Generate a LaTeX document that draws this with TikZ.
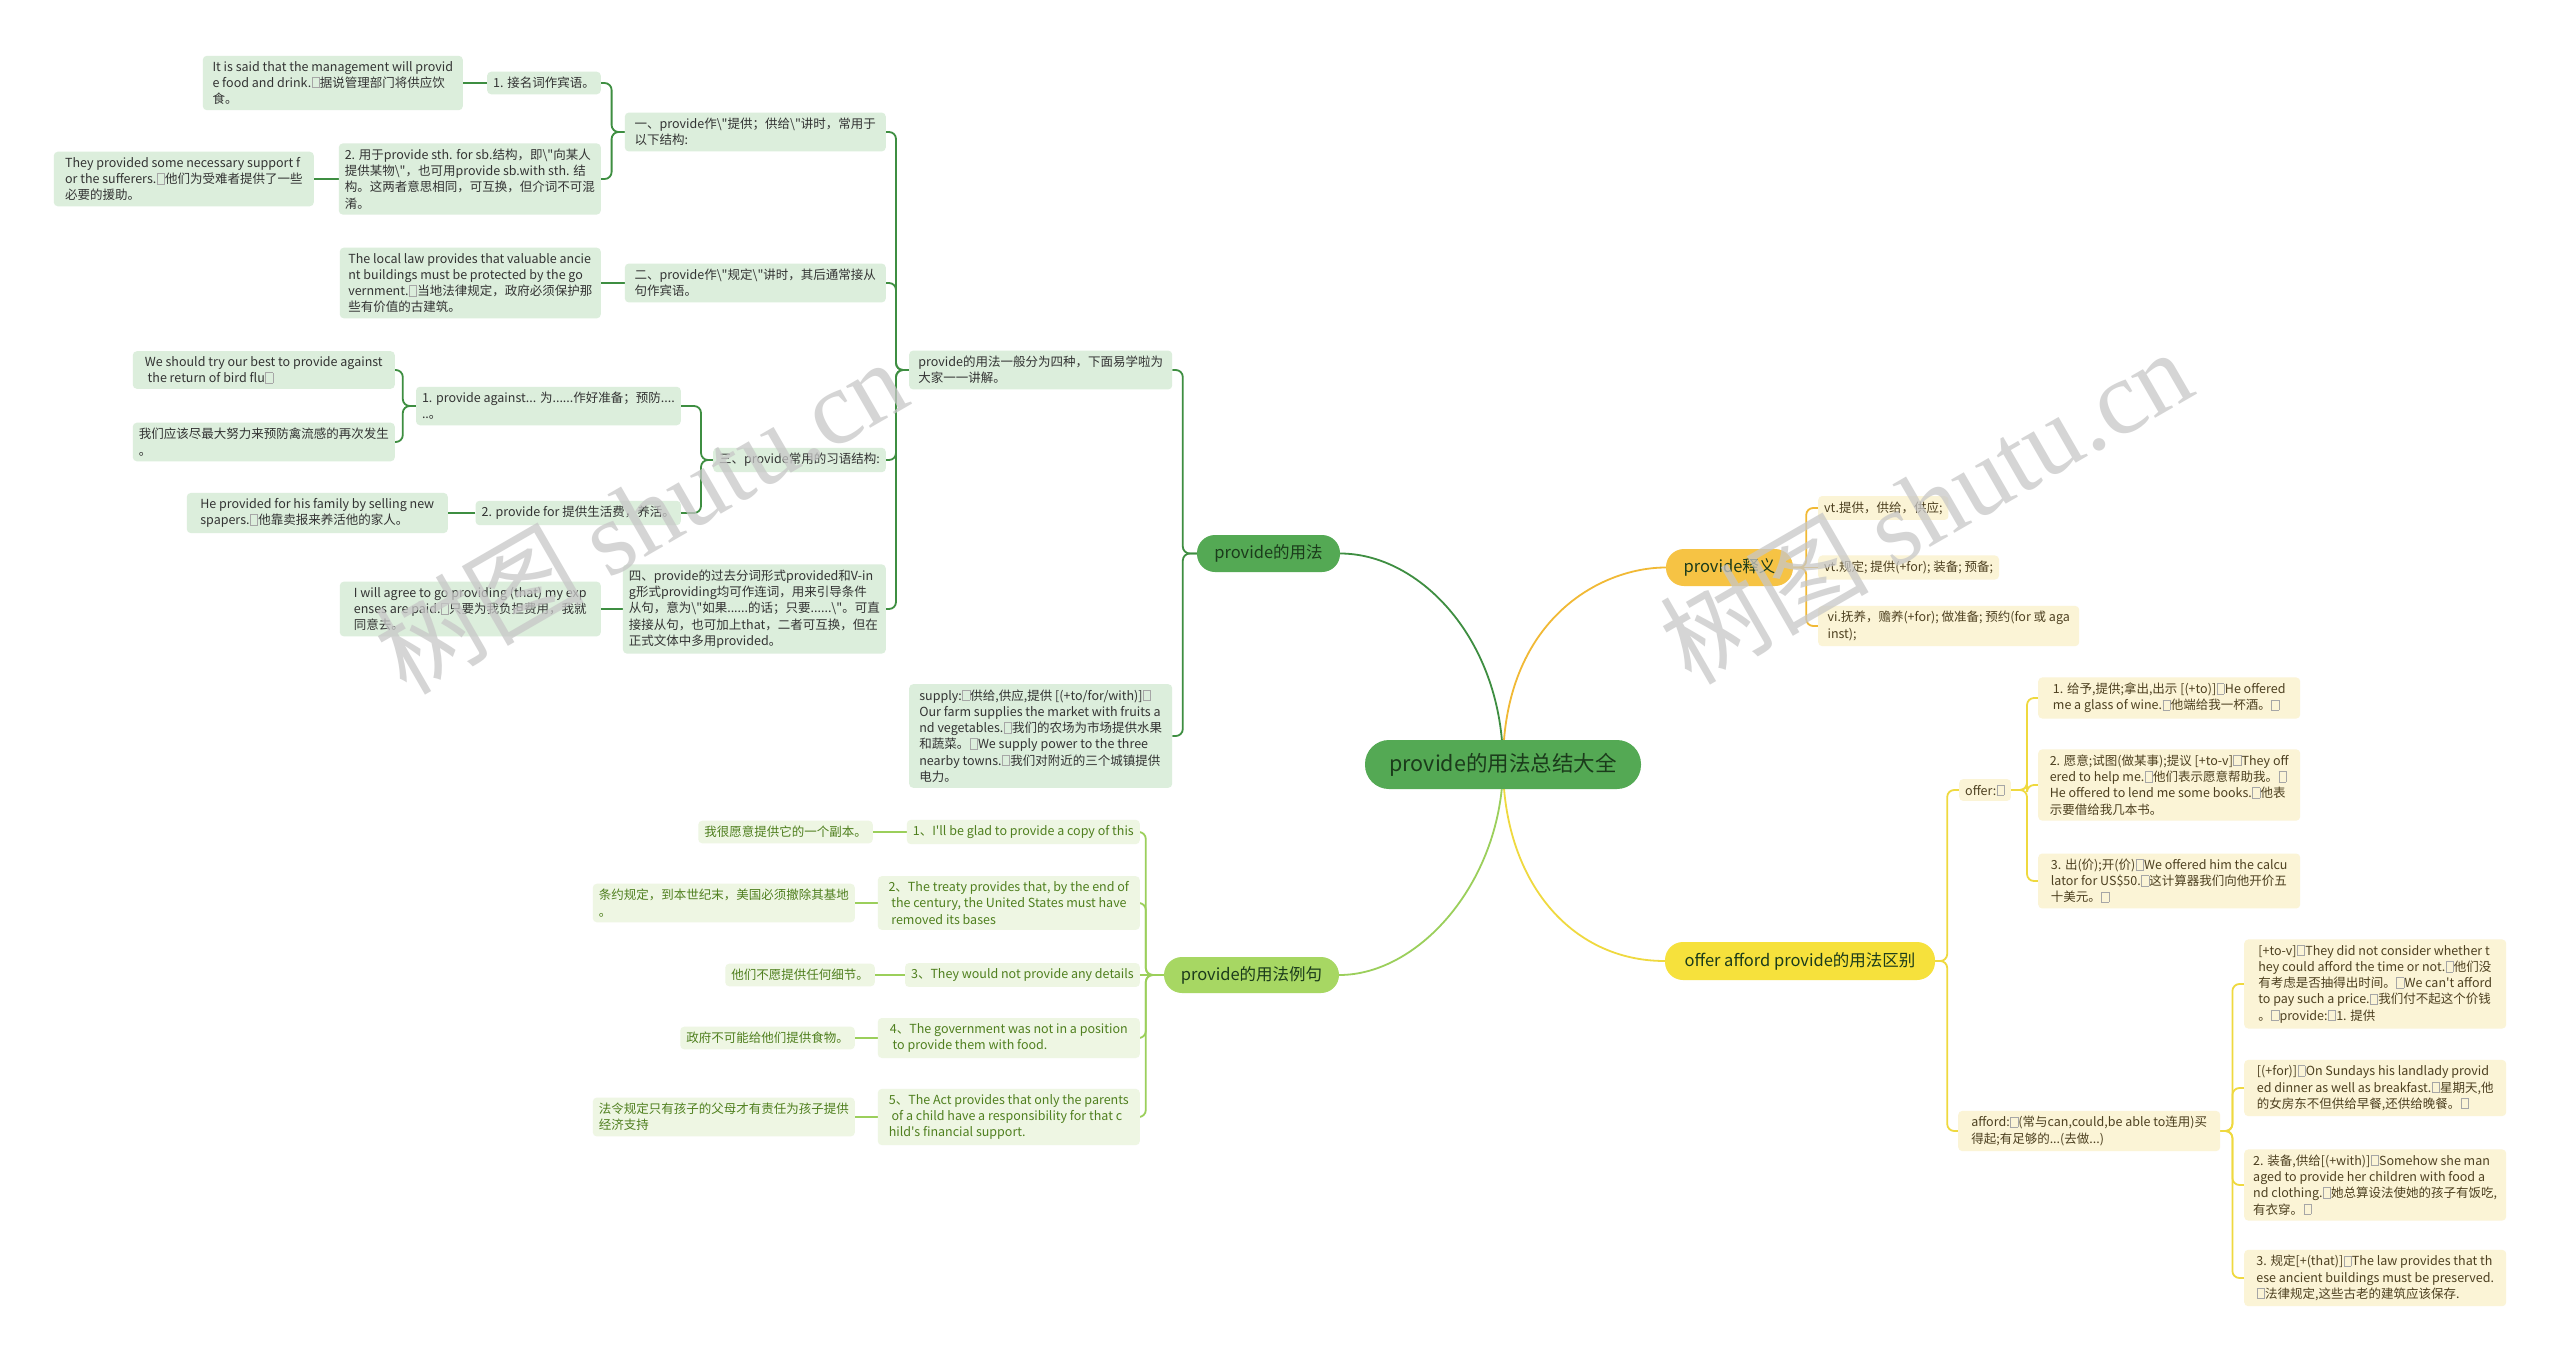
\documentclass[tikz,border=0pt]{standalone}
\usepackage{fontspec}
\newfontfamily\cjkf{Noto Sans CJK SC}
\setmainfont{Noto Sans CJK SC}
\newfontfamily\wmfont{Liberation Serif}
\definecolor{rootfill}{HTML}{54A954}
\definecolor{roottext}{HTML}{1B3B1B}
\definecolor{sfill}{HTML}{F6C344}
\definecolor{ofill}{HTML}{F6E13C}
\definecolor{lfill}{HTML}{A7D763}
\definecolor{gfill}{HTML}{DCEEDC}
\definecolor{gtext}{HTML}{333333}
\definecolor{yfill}{HTML}{FBF4D6}
\definecolor{ytext}{HTML}{4D4020}
\definecolor{efill}{HTML}{EEF6E3}
\definecolor{etext}{HTML}{4F7F1E}
\definecolor{gline}{HTML}{3E8E41}
\definecolor{sline}{HTML}{F1B935}
\definecolor{oline}{HTML}{EFD93F}
\definecolor{eline}{HTML}{9BCF5B}
\newcommand\fsm{\cjkf\fontsize{12.5}{16.2}\selectfont}
\newcommand\sepm{\kern0.5pt\textcolor{black!35}{\setlength{\fboxsep}{0pt}\setlength{\fboxrule}{0.4pt}\fbox{\rule{0pt}{0.8em}\hspace{0.55em}}}\kern0.5pt}
\pgfdeclarelayer{bg}
\pgfsetlayers{bg,main}
\tikzset{
  base/.style={font=\fsm, align=left, inner xsep=6pt, inner ysep=5.5pt, rounded corners=4pt},
  gbox/.style={base, fill=gfill, text=gtext},
  ybox/.style={base, fill=yfill, text=ytext},
  ebox/.style={base, fill=efill, text=etext},
  bigbox/.style={font=\cjkf\fontsize{16.5}{18}\selectfont, text=roottext, rounded corners=18pt, inner sep=0pt},
  gl/.style={draw=gline, line width=1.8pt, rounded corners=7pt},
  sl/.style={draw=sline, line width=1.8pt, rounded corners=7pt},
  ol/.style={draw=oline, line width=1.8pt, rounded corners=7pt},
  el/.style={draw=eline, line width=1.8pt, rounded corners=7pt},
  wm/.style={text=black!22, opacity=0.75, font=\cjkf\fontsize{105}{105}\selectfont, inner sep=0pt}
}
\begin{document}
\begin{tikzpicture}[x=1pt,y=-1pt]
\useasboundingbox (0,0) rectangle (2560,1363);
\begin{pgfonlayer}{bg}
\fill[white] (0,0) rectangle (2560,1363);
\end{pgfonlayer}

% central and level-1 nodes
\node[fill=rootfill, text=roottext, font=\cjkf\fontsize{21.5}{24}\selectfont, rounded corners=24pt, minimum width=276pt, minimum height=49pt, inner sep=0pt] (root) at (1503,764.5) {provide的用法总结大全};
\node[bigbox, fill=rootfill, minimum width=143pt, minimum height=37pt] (yongfa) at (1268.5,553.5) {provide的用法};
\node[bigbox, fill=sfill, minimum width=127pt, minimum height=37pt] (shiyi) at (1729.5,567.5) {provide释义};
\node[bigbox, fill=ofill, minimum width=270pt, minimum height=38pt] (oap) at (1800,961) {offer afford provide的用法区别};
\node[bigbox, fill=lfill, minimum width=175pt, minimum height=36pt] (lixu) at (1251.5,975) {provide的用法例句};

% provide的用法 branch
\node[gbox, minimum width=263pt, anchor=west] (intro) at (909,370) {provide的用法一般分为四种，下面易学啦为\\大家一一讲解。};
\node[gbox, minimum width=263pt, anchor=west] (supply) at (909,736) {supply:\sepm 供给,供应,提供 [(+to/for/with)]\sepm\\Our farm supplies the market with fruits a\\nd vegetables.\sepm 我们的农场为市场提供水果\\和蔬菜。\sepm We supply power to the three\\nearby towns.\sepm 我们对附近的三个城镇提供\\电力。};
\node[gbox, minimum width=261pt, anchor=east] (g1) at (886,132) {一、provide作\textbackslash"提供；供给\textbackslash"讲时，常用于\\以下结构:};
\node[gbox, anchor=east] (g1a) at (601,83) {1. 接名词作宾语。};
\node[gbox, minimum width=260pt, anchor=east] (g1aa) at (463,83) {It is said that the management will provid\\e food and drink.\sepm 据说管理部门将供应饮\\食。};
\node[gbox, minimum width=261pt, anchor=east] (g1b) at (601,179) {2. 用于provide sth. for sb.结构，即\textbackslash"向某人\\提供某物\textbackslash"，也可用provide sb.with sth. 结\\构。这两者意思相同，可互换，但介词不可混\\淆。};
\node[gbox, minimum width=260pt, anchor=east] (g1ba) at (314,179) {They provided some necessary support f\\or the sufferers.\sepm 他们为受难者提供了一些\\必要的援助。};
\node[gbox, minimum width=261pt, anchor=east] (g2) at (886,283) {二、provide作\textbackslash"规定\textbackslash"讲时，其后通常接从\\句作宾语。};
\node[gbox, minimum width=261pt, anchor=east] (g2a) at (601,283) {The local law provides that valuable ancie\\nt buildings must be protected by the go\\vernment.\sepm 当地法律规定，政府必须保护那\\些有价值的古建筑。};
\node[gbox, anchor=east] (g3) at (886,460) {三、provide常用的习语结构:};
\node[gbox, minimum width=262pt, anchor=east] (g3a) at (681,406) {1. provide against... 为......作好准备；预防....\\..。};
\node[gbox, minimum width=262pt, anchor=east] (g3aa) at (395,370) {We should try our best to provide against\\\ the return of bird flu\sepm};
\node[gbox, minimum width=262pt, anchor=east] (g3ab) at (395,442) {我们应该尽最大努力来预防禽流感的再次发生\\。};
\node[gbox, anchor=east] (g3b) at (681,513) {2. provide for 提供生活费，养活。};
\node[gbox, minimum width=261pt, anchor=east] (g3ba) at (448,513) {He provided for his family by selling new\\spapers.\sepm 他靠卖报来养活他的家人。};
\node[gbox, minimum width=261pt, anchor=east] (g4) at (886,609) {四、provide的过去分词形式provided和V-in\\g形式providing均可作连词，用来引导条件\\从句，意为\textbackslash"如果......的话；只要......\textbackslash"。可直\\接接从句，也可加上that，二者可互换，但在\\正式文体中多用provided。};
\node[gbox, minimum width=261pt, anchor=east] (g4a) at (601,609) {I will agree to go providing (that) my exp\\enses are paid.\sepm 只要为我负担费用，我就\\同意去。};

% examples branch
\node[ebox, anchor=east] (e1) at (1140,832) {1、I'll be glad to provide a copy of this};
\node[ebox, anchor=east] (e1c) at (873,832) {我很愿意提供它的一个副本。};
\node[ebox, minimum width=262pt, anchor=east] (e2) at (1140,903) {2、The treaty provides that, by the end of\\\ the century, the United States must have\\\ removed its bases};
\node[ebox, minimum width=262pt, anchor=east] (e2c) at (855,903) {条约规定，到本世纪末，美国必须撤除其基地\\。};
\node[ebox, anchor=east] (e3) at (1140,975) {3、They would not provide any details};
\node[ebox, anchor=east] (e3c) at (875,975) {他们不愿提供任何细节。};
\node[ebox, minimum width=262pt, anchor=east] (e4) at (1140,1038) {4、The government was not in a position\\\ to provide them with food.};
\node[ebox, anchor=east] (e4c) at (855,1038) {政府不可能给他们提供食物。};
\node[ebox, minimum width=262pt, anchor=east] (e5) at (1140,1117) {5、The Act provides that only the parents\\\ of a child have a responsibility for that c\\hild's financial support.};
\node[ebox, minimum width=262pt, anchor=east] (e5c) at (855,1117) {法令规定只有孩子的父母才有责任为孩子提供\\经济支持};

% provide释义 branch
\node[ybox, anchor=west] (d1) at (1818,508) {vt.提供，供给，供应;};
\node[ybox, anchor=west] (d2) at (1818,567.5) {vt.规定; 提供(+for); 装备; 预备;};
\node[ybox, minimum width=261pt, anchor=west] (d3) at (1818,626) {vi.抚养，赡养(+for); 做准备; 预约(for 或 aga\\inst);};

% offer afford branch
\node[ybox, anchor=west] (offer) at (1959,790) {offer:\sepm};
\node[ybox, minimum width=262pt, anchor=west] (o1) at (2038,698) {1. 给予,提供;拿出,出示 [(+to)]\sepm He offered\\me a glass of wine.\sepm 他端给我一杯酒。\sepm};
\node[ybox, minimum width=262pt, anchor=west] (o2) at (2038,785) {2. 愿意;试图(做某事);提议 [+to-v]\sepm They off\\ered to help me.\sepm 他们表示愿意帮助我。\sepm\\He offered to lend me some books.\sepm 他表\\示要借给我几本书。};
\node[ybox, minimum width=262pt, anchor=west] (o3) at (2038,881) {3. 出(价);开(价)\sepm We offered him the calcu\\lator for US\$50.\sepm 这计算器我们向他开价五\\十美元。\sepm};
\node[ybox, minimum width=262pt, anchor=west] (afford) at (1958,1131) {afford:\sepm(常与can,could,be able to连用)买\\得起;有足够的...(去做...)};
\node[ybox, minimum width=262pt, anchor=west] (a1) at (2244,984) {[+to-v]\sepm They did not consider whether t\\hey could afford the time or not.\sepm 他们没\\有考虑是否抽得出时间。\sepm We can't afford\\to pay such a price.\sepm 我们付不起这个价钱\\。\sepm provide:\sepm 1. 提供};
\node[ybox, minimum width=262pt, anchor=west] (a2) at (2244,1088) {[(+for)]\sepm On Sundays his landlady provid\\ed dinner as well as breakfast.\sepm 星期天,他\\的女房东不但供给早餐,还供给晚餐。\sepm};
\node[ybox, minimum width=262pt, anchor=west] (a3) at (2244,1185) {2. 装备,供给[(+with)]\sepm Somehow she man\\aged to provide her children with food a\\nd clothing.\sepm 她总算设法使她的孩子有饭吃,\\有衣穿。\sepm};
\node[ybox, minimum width=262pt, anchor=west] (a4) at (2244,1278) {3. 规定[+(that)]\sepm The law provides that th\\ese ancient buildings must be preserved.\\\sepm 法律规定,这些古老的建筑应该保存.};

\coordinate (obr) at (2027,0);

\begin{pgfonlayer}{bg}
% main curves
\draw[draw=gline, line width=1.8pt] (root.center) .. controls (1503,640) and (1420,553.5) .. (yongfa.east);
\draw[draw=sline, line width=1.8pt] (root.center) .. controls (1503,620) and (1600,567.5) .. (shiyi.west);
\draw[draw=oline, line width=1.8pt] (root.center) .. controls (1503,880) and (1570,961) .. (oap.west);
\draw[draw=eline, line width=1.8pt] (root.center) .. controls (1503,880) and (1420,975) .. (lixu.east);
% green brackets
\draw[gl] (yongfa.west) -- ++(-14,0) |- (intro.east);
\draw[gl] (yongfa.west) -- ++(-14,0) |- (supply.east);
\foreach \c in {g1,g2,g3,g4} \draw[gl] (intro.west) -- ++(-13,0) |- (\c.east);
\foreach \c in {g1a,g1b} \draw[gl] (g1.west) -- ++(-13,0) |- (\c.east);
\draw[gl] (g1a.west) -- (g1aa.east);
\draw[gl] (g1b.west) -- (g1ba.east);
\draw[gl] (g2.west) -- (g2a.east);
\foreach \c in {g3a,g3b} \draw[gl] (g3.west) -- ++(-12,0) |- (\c.east);
\foreach \c in {g3aa,g3ab} \draw[gl] (g3a.west) -- ++(-13,0) |- (\c.east);
\draw[gl] (g3b.west) -- (g3ba.east);
\draw[gl] (g4.west) -- (g4a.east);
% example brackets
\foreach \c in {e1,e2,e4,e5} \draw[el] (lixu.west) -- ++(-18,0) |- (\c.east);
\draw[el] (lixu.west) -- (e3.east);
\foreach \c in {1,2,3,4,5} \draw[el] (e\c.west) -- (e\c c.east);
% yellow brackets
\foreach \c in {d1,d3} \draw[sl] (shiyi.east) -- ++(13,0) |- (\c.west);
\draw[sl] (shiyi.east) -- (d2.west);
\foreach \c in {offer,afford} \draw[ol] (oap.east) -- ++(12,0) |- (\c.west);
\foreach \c in {o1,o2,o3} \draw[ol] (offer.east) -- (offer.east -| obr) |- (\c.west);
\foreach \c in {a1,a2,a3,a4} \draw[ol] (afford.east) -- ++(12,0) |- (\c.west);
\end{pgfonlayer}

% watermarks
\node[wm, rotate=30] (wm1) at (640,515) {树图 {\wmfont shutu.cn}};
\node[wm, rotate=30] (wm2) at (1925,505) {树图 {\wmfont shutu.cn}};
\end{tikzpicture}
\end{document}
